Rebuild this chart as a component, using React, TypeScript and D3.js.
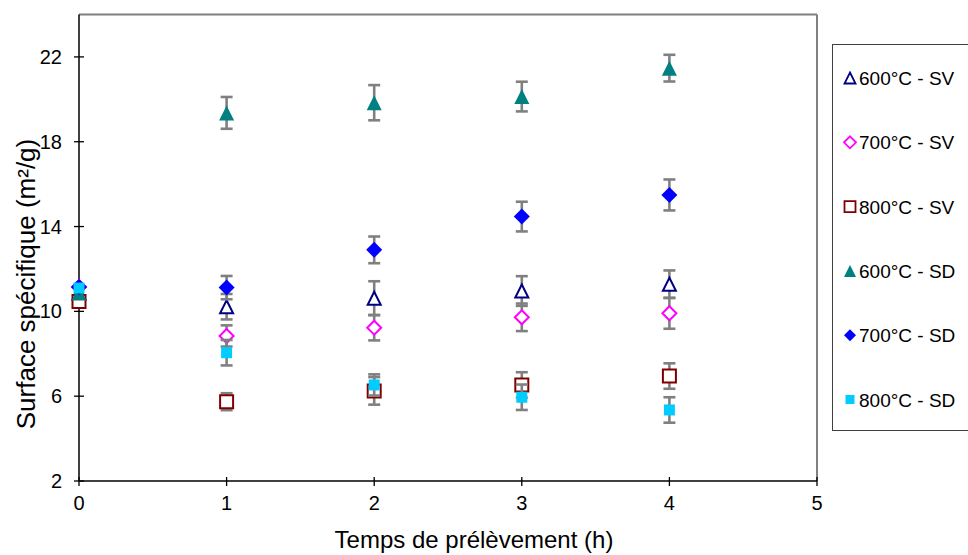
import React from "react";
import * as d3 from "d3";

// ---- data ----
const times = [0, 1, 2, 3, 4];
const sv600 = [10.87, 10.22, 10.62, 10.96, 11.28];
const sv600Err = [0, 0.6, 0.8, 0.7, 0.65];
const sv700 = [11.15, 8.84, 9.23, 9.72, 9.91];
const sv700Err = [0, 0.5, 0.6, 0.65, 0.73];
const sv800 = [10.46, 5.74, 6.25, 6.53, 6.95];
const sv800Err = [0, 0.4, 0.65, 0.6, 0.6];
const sd600 = [10.87, 19.36, 19.84, 20.13, 21.47];
const sd600Err = [0, 0.75, 0.83, 0.7, 0.63];
const sd700 = [11.15, 11.12, 12.9, 14.47, 15.49];
const sd700Err = [0, 0.55, 0.63, 0.7, 0.73];
const sd800 = [11.1, 8.05, 6.53, 5.95, 5.35];
const sd800Err = [0, 0.6, 0.5, 0.6, 0.6];

const seriesNames = ["600°C - SV", "700°C - SV", "800°C - SV", "600°C - SD", "700°C - SD", "800°C - SD"];
const xTicks = [0, 1, 2, 3, 4, 5];
const yTicks = [2, 6, 10, 14, 18, 22];

// custom symbols (Excel style: width == height)
const tri = {
  draw(ctx: any, size: number) {
    const s = Math.sqrt(size);
    ctx.moveTo(0, -s / 2);
    ctx.lineTo(s / 2, s / 2);
    ctx.lineTo(-s / 2, s / 2);
    ctx.closePath();
  },
};
const dia = {
  draw(ctx: any, size: number) {
    const s = Math.sqrt(size);
    ctx.moveTo(0, -s / 2);
    ctx.lineTo(s / 2, 0);
    ctx.lineTo(0, s / 2);
    ctx.lineTo(-s / 2, 0);
    ctx.closePath();
  },
};
const sq = {
  draw(ctx: any, size: number) {
    const s = Math.sqrt(size);
    ctx.rect(-s / 2, -s / 2, s, s);
  },
};

const series = [
  { name: seriesNames[0], values: sv600, err: sv600Err, type: tri, color: "#000080", filled: false, size: 13 },
  { name: seriesNames[1], values: sv700, err: sv700Err, type: dia, color: "#FF00FF", filled: false, size: 14 },
  { name: seriesNames[2], values: sv800, err: sv800Err, type: sq, color: "#800000", filled: false, size: 13 },
  { name: seriesNames[3], values: sd600, err: sd600Err, type: tri, color: "#008080", filled: true, size: 15 },
  { name: seriesNames[4], values: sd700, err: sd700Err, type: dia, color: "#0000FF", filled: true, size: 16 },
  { name: seriesNames[5], values: sd800, err: sd800Err, type: sq, color: "#00CCFF", filled: true, size: 11 },
];

const legendSize = [11, 12, 11, 12, 12, 9];

export default function App() {
  const W = 968, H = 555;
  const x = d3.scaleLinear().domain([0, 5]).range([79, 817]);
  const y = d3.scaleLinear().domain([2, 24]).range([481, 14.5]);
  const font = "Liberation Sans, Arial, sans-serif";

  const sym = (type: any, s: number) => d3.symbol().type(type).size(s * s)() as string;

  return (
    <svg width={W} height={H} style={{ position: "absolute", left: 0, top: 0, background: "#fff" }} fontFamily={font}>
      <rect x={0} y={0} width={W} height={H} fill="#fff" />
      {/* plot frame: top and right gray */}
      <line x1={x(0)} x2={x(5)} y1={y(24)} y2={y(24)} stroke="#808080" strokeWidth={2} />
      <line x1={x(5)} x2={x(5)} y1={y(24)} y2={y(2)} stroke="#808080" strokeWidth={2} />
      {/* axes */}
      <line x1={x(0)} x2={x(5)} y1={y(2)} y2={y(2)} stroke="#000" strokeWidth={1.5} />
      <line x1={x(0)} x2={x(0)} y1={y(24)} y2={y(2)} stroke="#000" strokeWidth={1.5} />
      {yTicks.map((t) => (
        <g key={"y" + t}>
          <line x1={x(0) - 5} x2={x(0) + 5} y1={y(t)} y2={y(t)} stroke="#000" strokeWidth={1.3} />
          <text x={62} y={y(t) + 7} textAnchor="end" fontSize={20} fill="#000">{t}</text>
        </g>
      ))}
      {xTicks.map((t) => (
        <g key={"x" + t}>
          <line x1={x(t)} x2={x(t)} y1={y(2) - 4} y2={y(2) + 5} stroke="#000" strokeWidth={1.3} />
          <text x={x(t)} y={510} textAnchor="middle" fontSize={20} fill="#000">{t}</text>
        </g>
      ))}
      {/* axis titles */}
      <text x={474} y={548} textAnchor="middle" fontSize={24} fill="#000">Temps de prélèvement (h)</text>
      <text transform={`translate(35,${284}) rotate(-90)`} textAnchor="middle" fontSize={26} fill="#000">
        Surface spécifique (m²/g)
      </text>
      {/* series */}
      {series.map((s, si) => (
        <g key={"s" + si}>
          {s.values.map((v, i) =>
            s.err[i] > 0 ? (
              <g key={"e" + i} stroke="#808080" strokeWidth={2.6}>
                <line x1={x(times[i])} x2={x(times[i])} y1={y(v - s.err[i])} y2={y(v + s.err[i])} />
                <line x1={x(times[i]) - 6} x2={x(times[i]) + 6} y1={y(v - s.err[i])} y2={y(v - s.err[i])} />
                <line x1={x(times[i]) - 6} x2={x(times[i]) + 6} y1={y(v + s.err[i])} y2={y(v + s.err[i])} />
              </g>
            ) : null
          )}
          {s.values.map((v, i) => (
            <path
              key={"m" + i}
              d={sym(s.type, s.size)}
              transform={`translate(${x(times[i])},${y(v)})`}
              fill={s.filled ? s.color : "#fff"}
              stroke={s.color}
              strokeWidth={s.filled ? 0 : 2}
            />
          ))}
        </g>
      ))}
      {/* legend */}
      <rect x={832.5} y={44.5} width={150} height={386} fill="#fff" stroke="#404040" strokeWidth={1} />
      {series.map((s, si) => {
        const cy = 78 + si * 64.3;
        return (
          <g key={"l" + si}>
            <path
              d={sym(s.type, legendSize[si])}
              transform={`translate(850,${cy})`}
              fill={s.filled ? s.color : "#fff"}
              stroke={s.color}
              strokeWidth={s.filled ? 0 : 1.8}
            />
            <text x={859} y={cy + 7} fontSize={19} fill="#000">{s.name}</text>
          </g>
        );
      })}
    </svg>
  );
}
